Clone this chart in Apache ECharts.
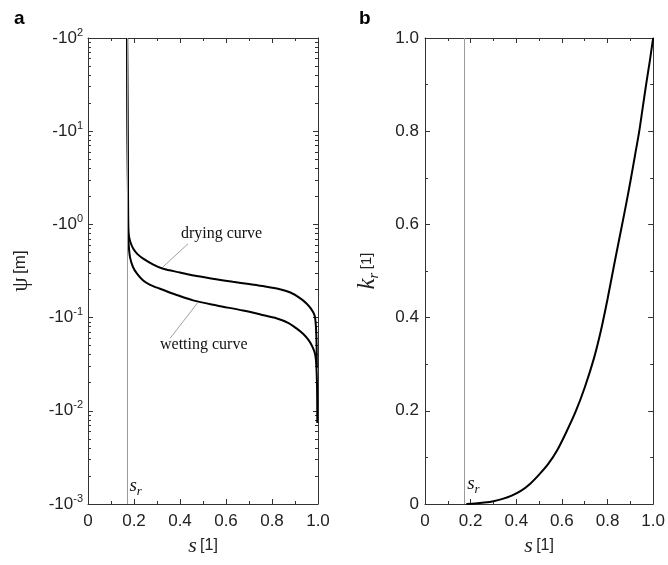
<!DOCTYPE html>
<html>
<head>
<meta charset="utf-8">
<script src="https://cdn.jsdelivr.net/npm/echarts@6/dist/echarts.min.js"></script>
<style>
  html, body { margin: 0; padding: 0; background: #fff; }
  #chart { width: 668px; height: 565px; }
</style>
</head>
<body>
<div id="chart"></div>
<script>
// residual saturation
var sr = 0.165

// a: retention curves, s vs |psi| (psi is negative, plotted by magnitude)
var dryS = [0.170, 0.172, 0.174, 0.175, 0.178, 0.185, 0.197, 0.215, 0.240, 0.284, 0.327, 0.400, 0.460, 0.550, 0.630, 0.700, 0.770, 0.830, 0.880, 0.920, 0.950, 0.970, 0.985, 0.991, 0.994, 0.995]
var dryPsi = [100, 10, 2, 0.9, 0.75, 0.64, 0.547, 0.48, 0.43, 0.371, 0.334, 0.305, 0.283, 0.260, 0.242, 0.229, 0.216, 0.203, 0.186, 0.163, 0.142, 0.124, 0.106, 0.08, 0.05, 0.029]
var wetS = [0.170, 0.172, 0.174, 0.175, 0.177, 0.183, 0.196, 0.213, 0.240, 0.270, 0.313, 0.380, 0.457, 0.560, 0.674, 0.750, 0.822, 0.870, 0.905, 0.935, 0.960, 0.977, 0.988, 0.993, 0.996, 0.997]
var wetPsi = [100, 10, 2, 0.8, 0.6, 0.44, 0.347, 0.297, 0.25, 0.225, 0.204, 0.177, 0.153, 0.135, 0.119, 0.108, 0.098, 0.088, 0.077, 0.067, 0.057, 0.048, 0.040, 0.03, 0.017, 0.0074]

// b: relative permeability
var krS = [0.181, 0.22, 0.26, 0.30, 0.34, 0.38, 0.42, 0.46, 0.50, 0.54, 0.58, 0.62, 0.66, 0.70, 0.74, 0.77, 0.80, 0.83, 0.86, 0.884, 0.903, 0.921, 0.939, 0.954, 0.969, 0.985, 1.0]
var krK = [0, 0.001, 0.003, 0.006, 0.011, 0.018, 0.028, 0.043, 0.063, 0.086, 0.116, 0.155, 0.198, 0.250, 0.312, 0.37, 0.44, 0.516, 0.59, 0.65, 0.70, 0.75, 0.80, 0.85, 0.90, 0.95, 1.0]

// tick values
var psiMajor = [0.001, 0.01, 0.1, 1, 10, 100]
var psiMinor = []
for (var d = 0; d < psiMajor.length - 1; d++) {
  for (var m = 2; m <= 9; m++) psiMinor.push(+(m * psiMajor[d]).toPrecision(3))
}

var SANS = 'Liberation Sans'
var SERIF = 'Liberation Serif'
var AX = '#333'

function zip(a, b) {
  return a.map(function (v, i) { return [v, b[i]] })
}

function sLabel(v) {
  return v === 0 ? '0' : v.toFixed(1)
}

function psiLabel(v) {
  var e = Math.round(Math.log10(v))
  return '{b|-10}{sup|' + e + '}'
}

var labelRich = {
  b: { fontFamily: SANS, fontSize: 17, color: '#222', lineHeight: 22 },
  sup: { fontFamily: SANS, fontSize: 11, color: '#222', verticalAlign: 'top', lineHeight: 12 }
}

function xAxisOf(grid, bottom) {
  return {
    gridIndex: grid, type: 'value', position: bottom ? 'bottom' : 'top',
    min: 0, max: 1, interval: 0.2,
    axisLine: { show: true, onZero: false, lineStyle: { color: AX, width: 1 } },
    axisTick: { show: true, inside: true, length: 5, lineStyle: { color: AX } },
    minorTick: { show: true, splitNumber: 2, length: 3, lineStyle: { color: AX } },
    axisLabel: { show: bottom, margin: 9, formatter: sLabel, fontFamily: SANS, fontSize: 17, color: '#222' },
    splitLine: { show: false },
    name: bottom ? '{s|s} {u|[1]}' : '',
    nameLocation: 'middle', nameGap: 31,
    nameTextStyle: {
      rich: {
        s: { fontFamily: SERIF, fontStyle: 'italic', fontSize: 22, color: '#222' },
        u: { fontFamily: SANS, fontSize: 16, color: '#222' }
      }
    }
  }
}

function psiAxis(pos, major, withLabel) {
  var ax = {
    gridIndex: 0, type: 'log', logBase: 10, position: pos,
    min: 0.001, max: 100,
    axisLine: { show: major, onZero: false, lineStyle: { color: AX, width: 1 } },
    axisTick: { show: true, inside: true, length: major ? 5 : 3, customValues: major ? psiMajor : psiMinor, lineStyle: { color: AX } },
    axisLabel: { show: false },
    splitLine: { show: false }
  }
  if (withLabel) {
    ax.axisLabel = { show: true, customValues: psiMajor, margin: 5, formatter: psiLabel, rich: labelRich }
    ax.name = '{p|ψ} {u|[m]}'
    ax.nameLocation = 'middle'
    ax.nameRotate = 90
    ax.nameGap = 56
    ax.nameTextStyle = {
      rich: {
        p: { fontFamily: SERIF, fontSize: 23, color: '#222' },
        u: { fontFamily: SANS, fontSize: 17, color: '#222' }
      }
    }
  }
  return ax
}

function krAxis(left) {
  return {
    gridIndex: 1, type: 'value', position: left ? 'left' : 'right',
    min: 0, max: 1, interval: 0.2,
    axisLine: { show: true, onZero: false, lineStyle: { color: AX, width: 1 } },
    axisTick: { show: true, inside: true, length: 5, lineStyle: { color: AX } },
    minorTick: { show: true, splitNumber: 2, length: 3, lineStyle: { color: AX } },
    axisLabel: { show: left, margin: 6, formatter: sLabel, fontFamily: SANS, fontSize: 17, color: '#222' },
    splitLine: { show: false },
    name: left ? '{k|k}{r|r} {u|[1]}' : '',
    nameLocation: 'middle', nameRotate: 90, nameGap: 43,
    nameTextStyle: {
      rich: {
        k: { fontFamily: SERIF, fontStyle: 'italic', fontSize: 25, color: '#222', lineHeight: 26 },
        r: { fontFamily: SERIF, fontStyle: 'italic', fontSize: 15, color: '#222', verticalAlign: 'bottom', lineHeight: 30 },
        u: { fontFamily: SANS, fontSize: 15, color: '#222' }
      }
    }
  }
}

var srLine = {
  silent: true, symbol: 'none', animation: false,
  label: { show: false },
  lineStyle: { color: '#9a9a9a', width: 1, type: 'solid' },
  data: [{ xAxis: sr }]
}

var curveStyle = { color: '#000', width: 2 }

var chart = echarts.init(document.getElementById('chart'))
chart.setOption({
  animation: false,
  grid: [
    { left: 88, top: 38, width: 230, height: 466 },
    { left: 425, top: 38, width: 230, height: 466 }
  ],
  xAxis: [xAxisOf(0, true), xAxisOf(0, false), xAxisOf(1, true), xAxisOf(1, false)],
  yAxis: [
    psiAxis('left', true, true),
    psiAxis('left', false, false),
    psiAxis('right', true, false),
    psiAxis('right', false, false),
    krAxis(true),
    krAxis(false)
  ],
  series: [
    {
      name: 'drying curve', type: 'line', xAxisIndex: 0, yAxisIndex: 0,
      data: zip(dryS, dryPsi), showSymbol: false, smooth: 0.3,
      lineStyle: curveStyle, z: 3, markLine: srLine
    },
    {
      name: 'wetting curve', type: 'line', xAxisIndex: 0, yAxisIndex: 0,
      data: zip(wetS, wetPsi), showSymbol: false, smooth: 0.3,
      lineStyle: curveStyle, z: 3
    },
    {
      name: 'kr', type: 'line', xAxisIndex: 2, yAxisIndex: 4,
      data: zip(krS, krK), showSymbol: false, smooth: 0.3,
      lineStyle: curveStyle, z: 3, markLine: srLine
    }
  ]
})

// annotations placed through the axes' own scales
function pA(s, psi) { return chart.convertToPixel({ xAxisIndex: 0, yAxisIndex: 0 }, [s, psi]) }
function pB(s, k) { return chart.convertToPixel({ xAxisIndex: 2, yAxisIndex: 4 }, [s, k]) }

function leader(a, b) {
  return { type: 'line', shape: { x1: a[0], y1: a[1], x2: b[0], y2: b[1] }, style: { stroke: '#888', lineWidth: 0.8 }, z: 10 }
}
function note(p, text) {
  return { type: 'text', x: p[0], y: p[1], style: { text: text, font: '16px "' + SERIF + '"', fill: '#111', textVerticalAlign: 'middle' }, z: 10 }
}
function srText(p) {
  return {
    type: 'text', x: p[0], y: p[1], z: 10,
    style: {
      text: '{s|s}{r|r}', textVerticalAlign: 'middle',
      rich: {
        s: { fontFamily: SERIF, fontStyle: 'italic', fontSize: 19, fill: '#111', lineHeight: 20 },
        r: { fontFamily: SERIF, fontStyle: 'italic', fontSize: 13, fill: '#111', verticalAlign: 'bottom', lineHeight: 24 }
      }
    }
  }
}

chart.setOption({
  graphic: [
    { type: 'text', x: 14, y: 9, style: { text: 'a', font: 'bold 19px "' + SANS + '"', fill: '#000' } },
    { type: 'text', x: 359, y: 9, style: { text: 'b', font: 'bold 19px "' + SANS + '"', fill: '#000' } },
    leader(pA(0.326, 0.35), pA(0.435, 0.62)),
    note(pA(0.404, 0.80), 'drying curve'),
    leader(pA(0.478, 0.1455), pA(0.357, 0.06)),
    note(pA(0.313, 0.0516), 'wetting curve'),
    srText(pA(0.18, 0.00156)),
    srText(pB(0.185, 0.043))
  ]
})
</script>
</body>
</html>
